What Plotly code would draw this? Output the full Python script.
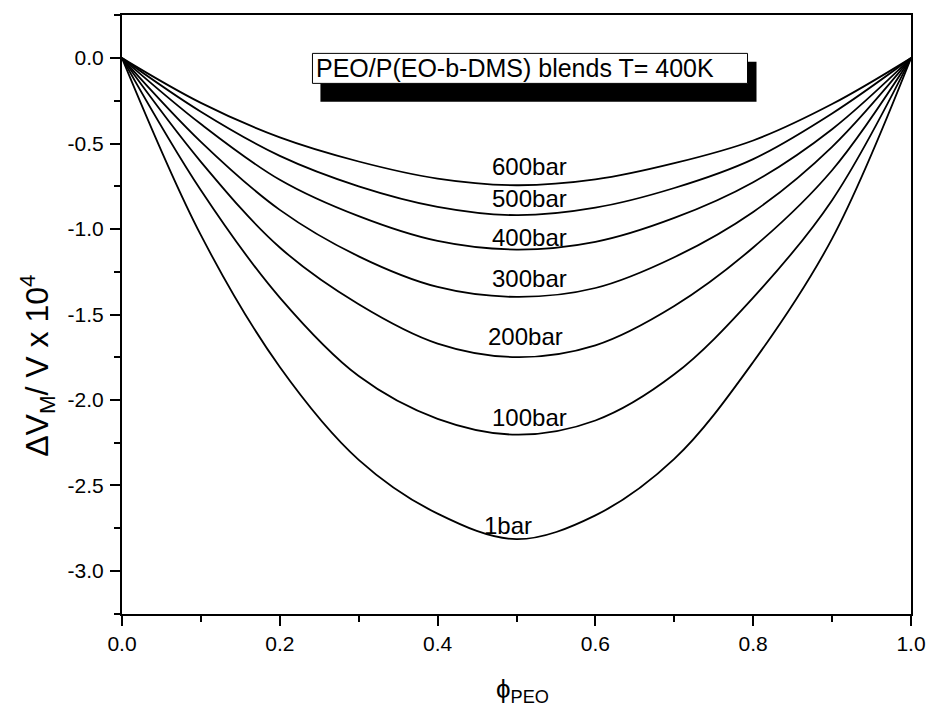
import plotly.graph_objects as go

phi = [0.0, 0.1, 0.2, 0.3, 0.4, 0.5, 0.6, 0.7, 0.8, 0.9, 1.0]

p600 = [0.0, -0.262, -0.464, -0.605, -0.705, -0.744, -0.710, -0.615, -0.482, -0.269, 0.0]
p500 = [0.0, -0.314, -0.572, -0.750, -0.870, -0.919, -0.875, -0.760, -0.591, -0.324, 0.0]
p400 = [0.0, -0.386, -0.712, -0.925, -1.070, -1.120, -1.075, -0.935, -0.726, -0.416, 0.0]
p300 = [0.0, -0.490, -0.888, -1.160, -1.339, -1.397, -1.345, -1.165, -0.900, -0.519, 0.0]
p200 = [0.0, -0.607, -1.108, -1.440, -1.670, -1.749, -1.680, -1.450, -1.108, -0.656, 0.0]
p100 = [0.0, -0.773, -1.401, -1.860, -2.110, -2.203, -2.120, -1.850, -1.401, -0.831, 0.0]
p1 = [0.0, -1.036, -1.807, -2.350, -2.665, -2.814, -2.675, -2.345, -1.778, -1.056, 0.0]

series = [("600bar", p600), ("500bar", p500), ("400bar", p400), ("300bar", p300),
          ("200bar", p200), ("100bar", p100), ("1bar", p1)]

label_x = [0.516, 0.516, 0.516, 0.516, 0.511, 0.516, 0.4895]
label_y = [-0.632, -0.82, -1.05, -1.29, -1.628, -2.10, -2.734]

xtick_vals = [0.0, 0.2, 0.4, 0.6, 0.8, 1.0]
xtick_text = ["0.0", "0.2", "0.4", "0.6", "0.8", "1.0"]
ytick_vals = [0.0, -0.5, -1.0, -1.5, -2.0, -2.5, -3.0]
ytick_text = ["0.0", "-0.5", "-1.0", "-1.5", "-2.0", "-2.5", "-3.0"]

FONT = "Liberation Sans, Arial, sans-serif"

fig = go.Figure()
for name, vals in series:
    fig.add_trace(go.Scatter(x=phi, y=vals, mode="lines", name=name,
                             line=dict(color="black", width=1.8, shape="spline", smoothing=1.0),
                             showlegend=False))

for (name, _), lx, ly in zip(series, label_x, label_y):
    fig.add_annotation(x=lx, y=ly, text=name, showarrow=False,
                       font=dict(family=FONT, size=24, color="black"))

# title box with shadow
fig.add_shape(type="rect", xref="x", yref="y", x0=0.2515, x1=0.8042, y0=-0.256, y1=-0.0217,
              fillcolor="black", line=dict(width=0), layer="above")
fig.add_shape(type="rect", xref="x", yref="y", x0=0.2414, x1=0.7928, y0=-0.148, y1=0.0275,
              fillcolor="white", line=dict(color="black", width=1), layer="above")
fig.add_annotation(x=0.498, y=-0.06, text="PEO/P(EO-b-DMS) blends T= 400K", showarrow=False,
                   font=dict(family=FONT, size=25, color="black"))

# axis titles
fig.add_annotation(xref="paper", yref="paper", x=-0.108, y=0.414, textangle=-90,
                   xanchor="center", yanchor="middle",
                   text="ΔV<sub>M</sub>/ V x 10<sup>4</sup>", showarrow=False,
                   font=dict(family=FONT, size=32, color="black"))
fig.add_annotation(xref="paper", yref="paper", x=0.508, y=-0.127,
                   xanchor="center", yanchor="middle",
                   text="ϕ<sub>PEO</sub>", showarrow=False,
                   font=dict(family=FONT, size=26, color="black"))

fig.update_layout(
    width=931, height=712,
    margin=dict(l=122, r=20, t=15, b=98, autoexpand=False),
    paper_bgcolor="white", plot_bgcolor="white",
    font=dict(family=FONT, size=21, color="black"),
)
fig.update_xaxes(range=[0, 1], tickvals=xtick_vals, ticktext=xtick_text,
                 ticks="outside", ticklen=10, tickwidth=2, tickcolor="black",
                 minor=dict(ticks="outside", ticklen=6, tickwidth=2, tickcolor="black", dtick=0.1),
                 showline=True, linecolor="black", linewidth=2, mirror=True, automargin=False,
                 showgrid=False, zeroline=False, tickfont=dict(size=21))
fig.update_yaxes(range=[-3.252, 0.252], tickvals=ytick_vals, ticktext=ytick_text,
                 ticks="outside", ticklen=10, tickwidth=2, tickcolor="black",
                 minor=dict(ticks="outside", ticklen=6, tickwidth=2, tickcolor="black", dtick=0.25),
                 showline=True, linecolor="black", linewidth=2, mirror=True, automargin=False,
                 ticklabelstandoff=2,
                 showgrid=False, zeroline=False, tickfont=dict(size=21))

fig.write_html("out.html", config={"displayModeBar": False},
               post_script="document.body.style.margin='0px';document.body.style.overflow='hidden';")
